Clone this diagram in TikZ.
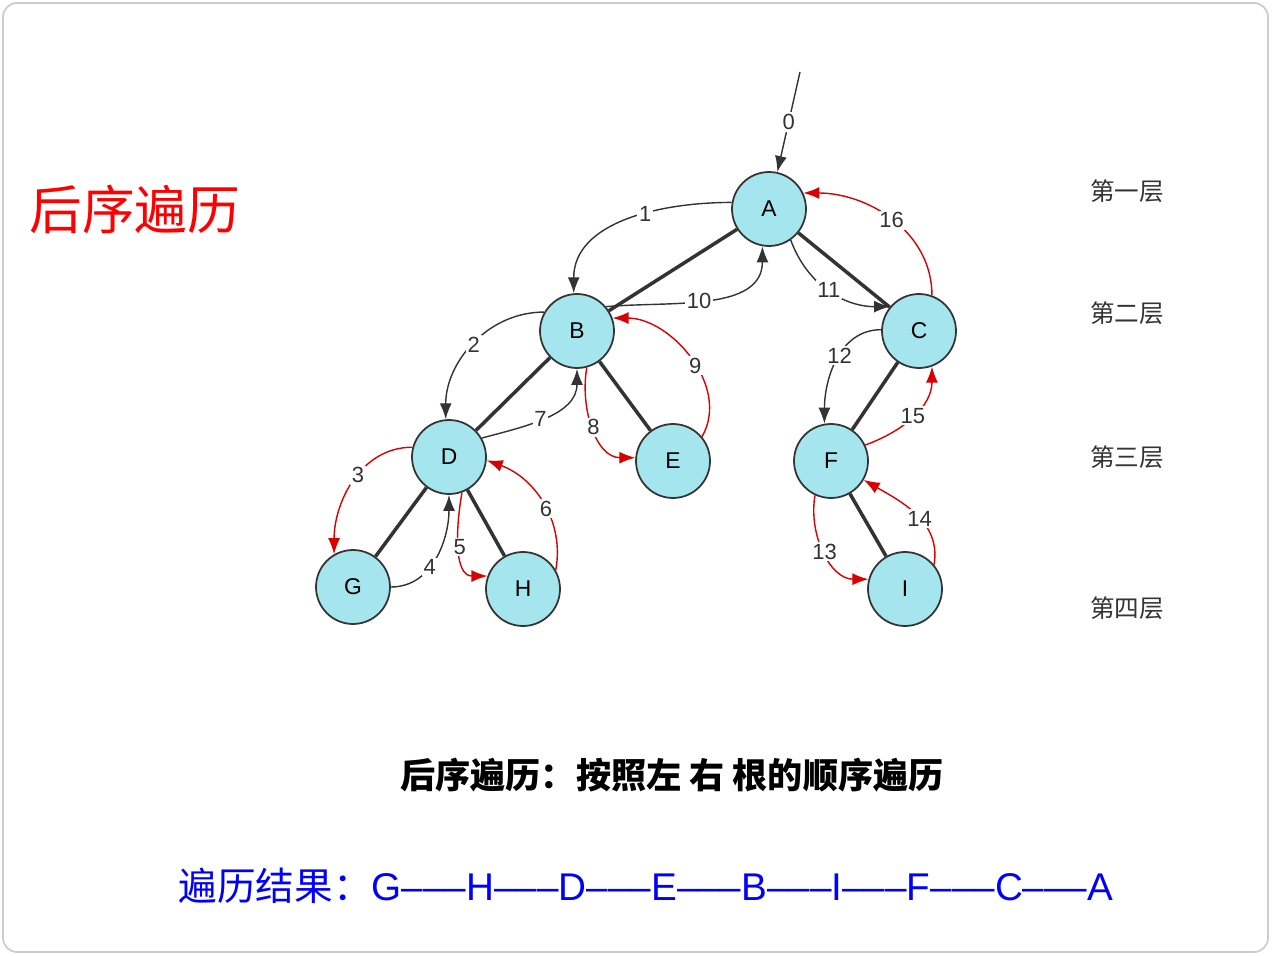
\documentclass[tikz,border=0pt]{standalone}
\usepackage{fontspec}
\setmainfont{Liberation Sans}
\newfontfamily\cjk{Noto Sans CJK SC}
\usetikzlibrary{arrows.meta, positioning}
\definecolor{nodefill}{HTML}{A5E6EE}
\definecolor{blk}{HTML}{333333}
\tikzset{
  vert/.style={draw=blk, circle, fill=nodefill, line width=1pt, minimum size=1.48cm, inner sep=0pt, font=\fontsize{13}{13}\selectfont},
  tree/.style={line width=2pt, blk},
  walk/.style={-{Latex[length=3.2mm,width=2.4mm]}, line width=0.8pt, blk},
  back/.style={-{Latex[length=3.2mm,width=2.4mm]}, line width=0.8pt, red!85!black},
  num/.style={fill=white, inner sep=1pt, font=\fontsize{12.5}{12.5}\selectfont, text=blk},
  level/.style={font=\cjk\fontsize{14}{14}\selectfont, text=blk}
}
\begin{document}
\begin{tikzpicture}[x=0.02cm, y=-0.02cm]
\useasboundingbox (0,0) rectangle (1272,956);
\draw[gray!40, line width=1pt, rounded corners=8pt] (3,3) rectangle (1268,952);
% nodes
\node[vert] (A) at (769,209) {A};
\node[vert] (B) at (577,331) {B};
\node[vert] (C) at (919,331) {C};
\node[vert] (D) at (449,457) {D};
\node[vert] (E) at (673,461) {E};
\node[vert] (F) at (831,461) {F};
\node[vert] (G) at (353,587) {G};
\node[vert] (H) at (523,589) {H};
\node[vert] (I) at (905,589) {I};
\coordinate (start) at (800,72);
% tree edges
\draw[tree] (A) -- (B);
\draw[tree] (A) -- (C);
\draw[tree] (B) -- (D);
\draw[tree] (B) -- (E);
\draw[tree] (C) -- (F);
\draw[tree] (D) -- (G);
\draw[tree] (D) -- (H);
\draw[tree] (F) -- (I);
% walk
\draw[walk] (start) -- node[num] {0} (A);
\draw[walk] (A.170) to[out=180, in=90] node[num, pos=0.4] {1} (B.95);
\draw[walk] (B.150) to[out=180, in=90] node[num, pos=0.5] {2} (D.95);
\draw[back] (D.165) to[out=180, in=90] node[num, pos=0.45] {3} (G.120);
\draw[walk] (G.east) to[out=0, in=-90] node[num, pos=0.4] {4} (D.south);
\draw[back] (D.-70) to[out=-100, in=180] node[num, pos=0.5] {5} (H.160);
\draw[back] (H.30) to[out=80, in=-20] node[num, pos=0.45] {6} (D.-5);
\draw[walk] (D.30) to[out=15, in=-90] node[num, pos=0.45] {7} (B.south);
\draw[back] (B.-75) to[out=-100, in=180] node[num, pos=0.5] {8} (E.175);
\draw[back] (E.40) to[out=60, in=0] node[num, pos=0.45] {9} (B.20);
\draw[walk] (B.40) to[out=5, in=-90] node[num, pos=0.45] {10} (A.-100);
\draw[walk] (A.-55) to[out=-70, in=180] node[num, pos=0.5] {11} (C.140);
\draw[walk] (C.178) to[out=180, in=90] node[num, pos=0.45] {12} (F.100);
\draw[back] (F.-115) to[out=-100, in=180] node[num, pos=0.5] {13} (I.165);
\draw[back] (I.40) to[out=80, in=-30] node[num, pos=0.45] {14} (F.-30);
\draw[back] (F.25) to[out=20, in=-90] node[num, pos=0.5] {15} (C.-70);
\draw[back] (C.70) to[out=90, in=0] node[num, pos=0.5] {16} (A.25);
% levels and texts
\node[level] (l1) at (1127,191) {第一层};
\node[level] (l2) at (1127,313) {第二层};
\node[level] (l3) at (1127,457) {第三层};
\node[level] (l4) at (1127,608) {第四层};
\node[text=red, font=\cjk\fontsize{30}{30}\selectfont] (title) at (135,209) {后序遍历};
\node[font=\cjk\bfseries\fontsize{20}{20}\selectfont] (rule) at (672,775) {后序遍历：按照左 右 根的顺序遍历};
\node[text=blue, font=\fontsize{22}{22}\selectfont] (result) at (646,886) {{\cjk 遍历结果：}G–––H–––D–––E–––B–––I–––F–––C–––A};
\end{tikzpicture}
\end{document}
